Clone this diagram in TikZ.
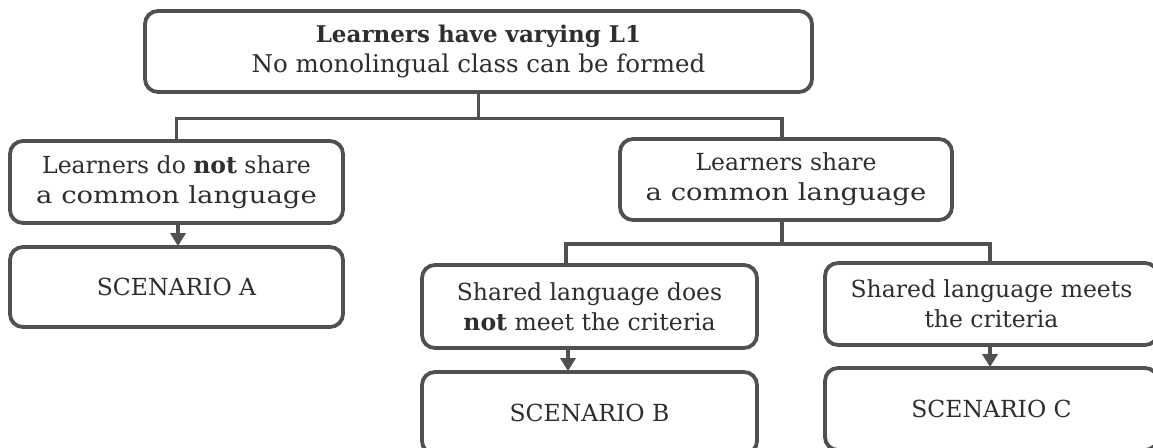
\documentclass[tikz,border=0pt]{standalone}
\usepackage{fontspec}
\usepackage{graphicx}
\setmainfont{DejaVu Serif}
\usetikzlibrary{arrows.meta}
\definecolor{linegray}{HTML}{505050}
\definecolor{txtgray}{HTML}{2E2E2E}
\newcommand{\widecommon}{\scalebox{1.17}[1]{a common language}}
\tikzset{
  box/.style={draw=linegray, line width=3.8pt, rounded corners=13pt, fill=white,
    align=center, text=txtgray, inner sep=0pt,
    font=\fontsize{23.5}{30}\selectfont},
  conn/.style={draw=linegray, line width=3.8pt},
  arr/.style={conn, -{Triangle[width=15pt,length=13pt]}, shorten >=-1pt}
}
\begin{document}
\begin{tikzpicture}[x=1pt,y=-1pt]
\useasboundingbox (0,0) rectangle (1153,447);
\clip (0,0) rectangle (1153,447);
\fill[white] (0,0) rectangle (1153,447);

\node[box, minimum width=667pt, minimum height=81pt] (top) at (478.5,51.5)
  {\textbf{\fontsize{23}{28}\selectfont Learners have varying L1}\\{\fontsize{24.5}{28}\selectfont No monolingual class can be formed}};
\node[box, minimum width=333pt, minimum height=82pt] (A1) at (176.5,182)
  {Learners do \textbf{not} share\\\widecommon};
\node[box, minimum width=333pt, minimum height=80pt] (A) at (176.5,287)
  {SCENARIO A};
\node[box, minimum width=332pt, minimum height=81pt] (S) at (786,179.5)
  {Learners share\\\widecommon};
\node[box, minimum width=335pt, minimum height=83pt] (B1) at (589.5,306.5)
  {Shared language does\\\textbf{not} meet the criteria};
\node[box, minimum width=333pt, minimum height=82pt] (C1) at (991.5,304)
  {Shared language meets\\the criteria};
\node[box, minimum width=335pt, minimum height=82pt] (B) at (589.5,413)
  {SCENARIO B};
\node[box, minimum width=333pt, minimum height=82pt] (C) at (991.5,409)
  {SCENARIO C};

\draw[conn] (top.south) -- ++(0,24.5) coordinate (j1);
\draw[conn] (A1.north) |- (j1) -| ([xshift=-4pt]S.north);
\draw[conn] ([xshift=-4pt]S.south) -- ++(0,22) coordinate (j2);
\draw[conn] ([xshift=-23.5pt]B1.north) |- (j2) -| ([xshift=-1.5pt]C1.north);

\draw[arr] ([xshift=1.5pt]A1.south) -- ([xshift=1.5pt]A.north);
\draw[arr] ([xshift=-21.5pt]B1.south) -- ([xshift=-21.5pt]B.north);
\draw[arr] ([xshift=-1.5pt]C1.south) -- ([xshift=-1.5pt]C.north);
\end{tikzpicture}
\end{document}
